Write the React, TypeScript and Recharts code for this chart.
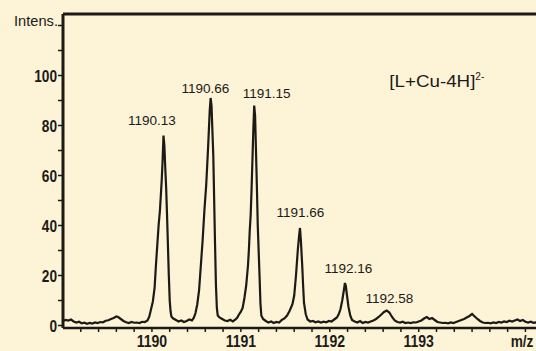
import { LineChart, Line, XAxis, YAxis, ReferenceLine, ReferenceDot } from "recharts";

// Isotope pattern of [L+Cu-4H]2- : m/z vs relative intensity.
const mz = [
  1189.0, 1189.03, 1189.06, 1189.09, 1189.12, 1189.15, 1189.18, 1189.21, 1189.24, 1189.27,
  1189.3, 1189.33, 1189.36, 1189.39, 1189.42, 1189.45, 1189.48, 1189.51, 1189.54, 1189.57,
  1189.6, 1189.62, 1189.65, 1189.68, 1189.71, 1189.74, 1189.77, 1189.8, 1189.83, 1189.86,
  1189.89, 1189.92, 1189.95, 1189.97, 1189.99, 1190.01, 1190.03, 1190.045, 1190.06, 1190.075,
  1190.09, 1190.1, 1190.11, 1190.12, 1190.13, 1190.14, 1190.15, 1190.16, 1190.17, 1190.18,
  1190.19, 1190.2, 1190.21, 1190.22, 1190.24, 1190.27, 1190.3, 1190.33, 1190.36, 1190.39,
  1190.42, 1190.45, 1190.47, 1190.49, 1190.51, 1190.53, 1190.55, 1190.57, 1190.59, 1190.61,
  1190.63, 1190.65, 1190.66, 1190.67, 1190.68, 1190.69, 1190.7, 1190.71, 1190.72, 1190.73,
  1190.74, 1190.76, 1190.79, 1190.82, 1190.85, 1190.88, 1190.91, 1190.94, 1190.96, 1190.98,
  1191.0, 1191.02, 1191.04, 1191.06, 1191.08, 1191.09, 1191.1, 1191.11, 1191.12, 1191.13,
  1191.14, 1191.15, 1191.16, 1191.17, 1191.18, 1191.19, 1191.2, 1191.21, 1191.22, 1191.23,
  1191.25, 1191.28, 1191.31, 1191.34, 1191.37, 1191.4, 1191.43, 1191.46, 1191.49, 1191.52,
  1191.55, 1191.58, 1191.6, 1191.62, 1191.64, 1191.655, 1191.665, 1191.675, 1191.69, 1191.7,
  1191.71, 1191.73, 1191.75, 1191.78, 1191.81, 1191.84, 1191.87, 1191.9, 1191.93, 1191.96,
  1191.99, 1192.02, 1192.05, 1192.08, 1192.1, 1192.12, 1192.14, 1192.16, 1192.17, 1192.18,
  1192.19, 1192.21, 1192.23, 1192.25, 1192.28, 1192.31, 1192.34, 1192.37, 1192.4, 1192.43,
  1192.46, 1192.49, 1192.52, 1192.55, 1192.58, 1192.61, 1192.64, 1192.67, 1192.7, 1192.73,
  1192.76, 1192.79, 1192.82, 1192.85, 1192.88, 1192.91, 1192.94, 1192.97, 1193.0, 1193.03,
  1193.06, 1193.09, 1193.12, 1193.15, 1193.18, 1193.21, 1193.24, 1193.27, 1193.3, 1193.33,
  1193.36, 1193.39, 1193.42, 1193.45, 1193.48, 1193.51, 1193.54, 1193.57, 1193.6, 1193.63,
  1193.66, 1193.69, 1193.72, 1193.75, 1193.78, 1193.81, 1193.84, 1193.87, 1193.9, 1193.93,
  1193.96, 1193.99, 1194.02, 1194.05, 1194.08, 1194.11, 1194.14, 1194.17, 1194.2, 1194.23,
  1194.26, 1194.29, 1194.32, 1194.35, 1194.38, 1194.41, 1194.45, 1194.5, 1194.55, 1194.6,
];

const intensity = [
  1.8, 2.2, 2.0, 2.4, 1.6, 1.2, 1.5, 0.9, 1.1, 0.7,
  1.0, 0.8, 1.2, 1.0, 1.4, 1.3, 1.9, 2.1, 2.6, 3.0,
  3.6, 3.4, 2.6, 1.8, 1.3, 1.0, 1.4, 1.1, 1.2, 1.0,
  1.5, 1.4, 2.0, 3.5, 6.5, 9.5, 15, 24, 32, 40,
  46, 52, 58, 66, 76, 72, 63, 55, 44, 32,
  20, 10, 5.5, 3.5, 2.8, 2.2, 1.6, 2.0, 1.4, 1.8,
  2.4, 2.0, 3.0, 5, 8.5, 14, 24, 34, 46, 56,
  70, 86, 91, 88, 78, 68, 50, 32, 16, 7,
  4, 3.2, 2.6, 2.0, 1.8, 2.3, 1.6, 2.4, 3.2, 4.5,
  5.5, 7, 11, 16, 24, 30, 38, 44, 54, 66,
  78, 88, 84, 70, 56, 40, 30, 20, 9, 4,
  2.6, 1.8, 1.2, 1.6, 1.0, 1.4, 1.2, 2.2, 2.8, 4,
  6, 8.5, 12, 20, 30, 36, 39, 34, 24, 16,
  9, 4.5, 2.4, 1.6, 1.8, 1.3, 1.6, 1.2, 1.5, 1.3,
  1.8, 1.6, 2.4, 3.2, 4.5, 6.5, 10, 14.5, 17, 16,
  13, 7.5, 4, 2.2, 1.6, 1.2, 1.8, 1.0, 1.4, 1.2,
  1.6, 2.0, 2.6, 3.4, 4.4, 5.4, 6.0, 5.2, 3.4, 2.0,
  1.4, 1.2, 1.5, 1.0, 1.2, 1.0, 1.3, 1.2, 1.6, 2.0,
  2.8, 3.4, 2.6, 3.0, 2.2, 1.4, 1.2, 1.0, 1.1, 0.9,
  1.2, 1.0, 1.4, 1.8, 2.2, 2.6, 3.2, 3.8, 4.6, 3.6,
  2.6, 1.8, 1.2, 1.0, 1.1, 0.9, 1.2, 1.0, 1.4, 1.2,
  1.6, 1.4, 1.9, 1.6, 2.0, 2.4, 1.8, 2.2, 1.5, 1.2,
  1.5, 1.1, 1.3, 1.0, 1.2, 1.0, 1.3, 1.1, 1.2, 1.0,
];

// peak annotations (text centre in data coords)
const peakLabels = ["1190.13", "1190.66", "1191.15", "1191.66", "1192.16", "1192.58"];
const peakLabelMz = [1190.0, 1190.6, 1191.29, 1191.67, 1192.21, 1192.67];
const peakLabelY = [82.2, 95, 93, 45.4, 23, 11];

const xTicks = [
  1189.2, 1189.4, 1189.6, 1189.8, 1190, 1190.2, 1190.4, 1190.6, 1190.8, 1191,
  1191.2, 1191.4, 1191.6, 1191.8, 1192, 1192.2, 1192.4, 1192.6, 1192.8, 1193,
  1193.2, 1193.4, 1193.6, 1193.8, 1194, 1194.2, 1194.4,
];
const xLabels = ["1190", "1191", "1192", "1193"];
const yTicks = [0, 10, 20, 30, 40, 50, 60, 70, 80, 90, 100, 110, 120];
const yLabels = ["0", "20", "40", "60", "80", "100"];

const data = mz.map((m, i) => ({ mz: m, v: intensity[i] }));

const INK = "#1c1a17";
const BG = "#fdf3d6";
const SANS = '"Liberation Sans", Arial, Helvetica, sans-serif';

// the scan uses a bold condensed face; squeeze a normal bold one to that width
function Narrow({ x, y, anchor, children }: any) {
  const s = String(children);
  return (
    <text
      x={x}
      y={y}
      textAnchor={anchor}
      fill={INK}
      fontFamily={SANS}
      fontWeight="bold"
      fontSize={16}
      textLength={s.length * 7.6}
      lengthAdjust="spacingAndGlyphs"
    >
      {s}
    </text>
  );
}

function XTick({ x, y, payload }: any) {
  const lbl = String(Math.round(payload.value * 10) / 10);
  if (xLabels.includes(lbl)) {
    return <Narrow x={x} y={y + 13} anchor="middle">{lbl}</Narrow>;
  }
  if (lbl === "1194") {
    return <Narrow x={x + 3} y={y + 13} anchor="start">m/z</Narrow>;
  }
  return null;
}

function YTick({ x, y, payload }: any) {
  const lbl = String(payload.value);
  if (payload.value === 120) {
    return (
      <text
        x={x + 1}
        y={y}
        dy={0}
        textAnchor="end"
        fill={INK}
        fontFamily={SANS}
        fontSize={14}
        textLength={44}
        lengthAdjust="spacingAndGlyphs"
      >
        Intens.
      </text>
    );
  }
  if (!yLabels.includes(lbl)) return null;
  return <Narrow x={x} y={y + 6} anchor="end">{lbl}</Narrow>;
}

export default function App() {
  return (
    <div style={{ position: "absolute", left: 0, top: 0, width: 536, height: 351, overflow: "hidden", background: BG }}>
      <LineChart width={570} height={351} data={data} margin={{ top: 14, right: 9, bottom: 0, left: 0 }}>
        <XAxis
          dataKey="mz"
          type="number"
          domain={[1189, 1194.6]}
          ticks={xTicks}
          interval={0}
          tick={<XTick />}
          tickSize={4}
          tickLine={{ stroke: INK, strokeWidth: 1.5 }}
          axisLine={{ stroke: INK, strokeWidth: 2.5 }}
          height={23}
        />
        <YAxis
          type="number"
          domain={[-1, 124.6]}
          ticks={yTicks}
          interval={0}
          tick={<YTick />}
          tickSize={5}
          tickMargin={1}
          tickLine={{ stroke: INK, strokeWidth: 1.5 }}
          axisLine={{ stroke: INK, strokeWidth: 3 }}
          width={63}
        />
        <ReferenceLine y={124.6} stroke={INK} strokeWidth={3} ifOverflow="visible" />
        <Line type="linear" dataKey="v" stroke={INK} strokeWidth={2.2} dot={false} isAnimationActive={false} />
        {peakLabels.map((t, i) => (
          <ReferenceDot
            key={t}
            x={peakLabelMz[i]}
            y={peakLabelY[i]}
            r={0}
            shape={(p: any) => (
              <text x={p.cx} y={p.cy} dy={5} textAnchor="middle" fill={INK} fontFamily={SANS} fontSize={13.5}>
                {t}
              </text>
            )}
          />
        ))}
        <ReferenceDot
          x={1192.67}
          y={97.8}
          r={0}
          shape={(p: any) => (
            <text x={p.cx} y={p.cy} dy={6} textAnchor="start" fill={INK} fontFamily={SANS} fontSize={17}>
              <tspan textLength={86} lengthAdjust="spacingAndGlyphs">[L+Cu-4H]</tspan>
              <tspan dy={-7} fontSize={10}>2-</tspan>
            </text>
          )}
        />
      </LineChart>
    </div>
  );
}
